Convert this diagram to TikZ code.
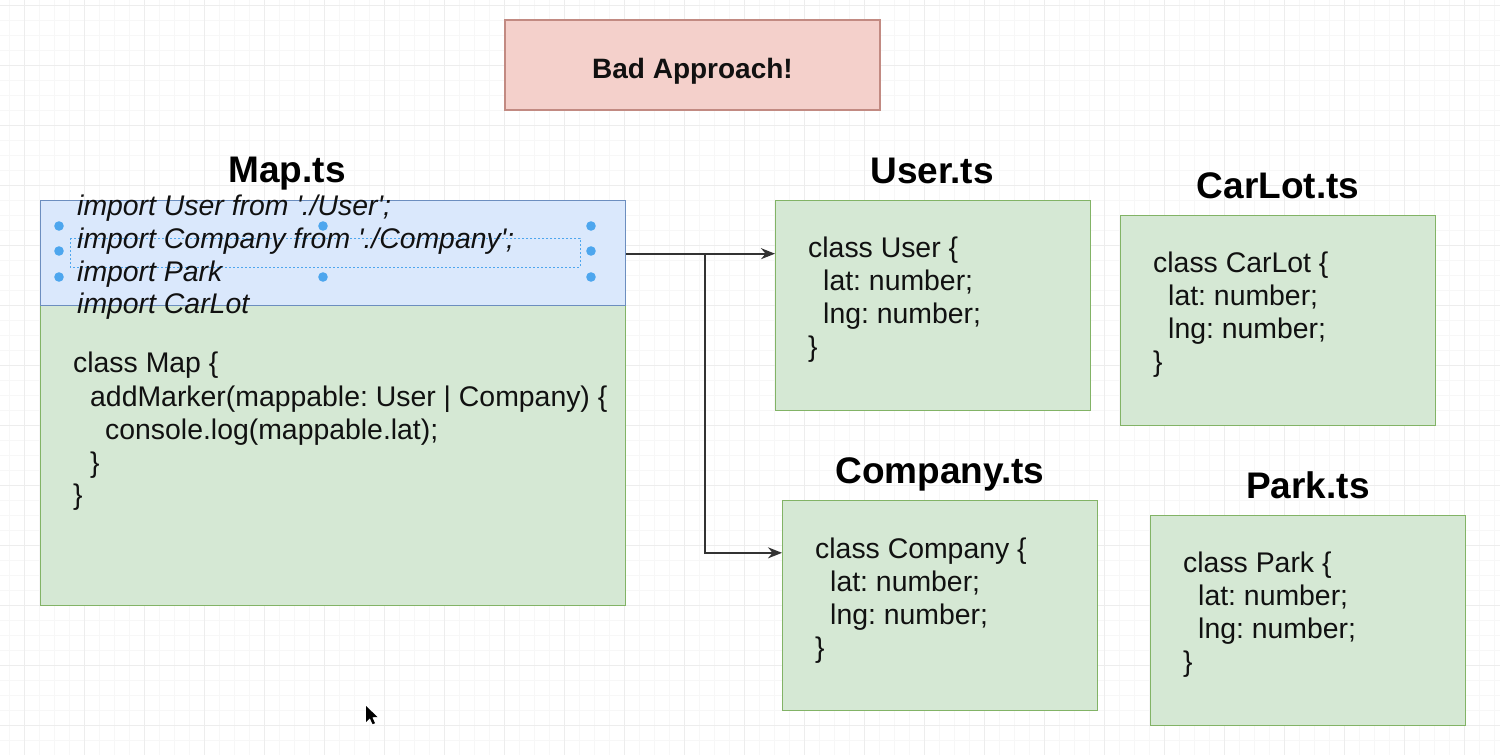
\documentclass[tikz,border=0pt]{standalone}
\usepackage{fontspec}
\setmainfont{Liberation Sans}
\usetikzlibrary{arrows.meta,calc}
\definecolor{gfill}{HTML}{D5E8D4}
\definecolor{gline}{HTML}{82B366}
\definecolor{bfill}{HTML}{DAE8FC}
\definecolor{bline}{HTML}{6C8EBF}
\definecolor{pfill}{HTML}{F4D0CB}
\definecolor{pline}{HTML}{C28A82}
\definecolor{gridminor}{HTML}{F7F7F7}
\definecolor{gridmajor}{HTML}{EDEDED}
\definecolor{arrowc}{HTML}{333333}
\definecolor{handlec}{HTML}{4DA6EE}
\definecolor{txt}{HTML}{111111}
\newcommand{\q}{\textquotesingle}
\begin{document}
\frenchspacing
\begin{tikzpicture}[x=1pt,y=-1pt,
  code/.style={anchor=base west,inner sep=0pt,text=txt,font=\fontsize{28.4}{33}\selectfont},
  imp/.style={anchor=base west,inner sep=0pt,text=txt,font=\fontsize{28.4}{33}\selectfont\itshape},
  ftitle/.style={anchor=base,inner sep=0pt,text=black,font=\fontsize{37}{44}\selectfont\bfseries},
  filebox/.style={draw=gline,fill=gfill,line width=1.3pt,anchor=north west,inner sep=0pt},
  conn/.style={draw=arrowc,line width=1.8pt,-{Stealth[length=14pt,width=11pt]}},
  handle/.style={fill=handlec}
]
\useasboundingbox (0,0) rectangle (1500,755);
\fill[white] (0,0) rectangle (1500,755);
% grid
\foreach \x in {9,24,...,1499} \draw[gridminor,line width=0.8pt] (\x,0) -- (\x,755);
\foreach \y in {5,20,...,754} \draw[gridminor,line width=0.8pt] (0,\y) -- (1500,\y);
\foreach \x in {24,84,...,1499} \draw[gridmajor,line width=1pt] (\x,0) -- (\x,755);
\foreach \y in {5,65,...,754} \draw[gridmajor,line width=1pt] (0,\y) -- (1500,\y);

% Bad approach
\node[draw=pline,fill=pfill,line width=1.3pt,minimum width=375pt,minimum height=90pt,inner sep=0pt,
  text height=30pt,text depth=4pt,
  text=txt,font=\fontsize{28}{33}\selectfont\bfseries] (bad) at (692.5,65) {Bad Approach!};

% Map.ts
\node[ftitle] (maptitle) at (287,182) {Map.ts};
\node[filebox,minimum width=585pt,minimum height=405pt] (map) at (40,200) {};
\node[draw=bline,fill=bfill,line width=1.3pt,anchor=north west,inner sep=0pt,
  minimum width=585pt,minimum height=105pt] (imports) at (40,200) {};
\draw[handlec,line width=0.8pt,dash pattern=on 2pt off 2pt] (70,238) rectangle (580,267);
\foreach \p in {(59,226),(323,226),(591,226),(59,251),(591,251),(59,277),(323,277),(591,277)}
  \fill[handle] \p circle (4.8pt);
\node[imp] (i1) at (77,215) {import User from \q./User\q;};
\node[imp] (i2) at (77,248) {import Company from \q./Company\q;};
\node[imp] (i3) at (77,281) {import Park};
\node[imp] (i4) at (77,313) {import CarLot};
\node[code] (m1) at (73,372) {class Map \{};
\node[code] (m2) at (90,406) {addMarker(mappable: User | Company) \{};
\node[code] (m3) at (105,439) {console.log(mappable.lat);};
\node[code] (m4) at (90,472) {\}};
\node[code] (m5) at (73,504) {\}};

% User.ts
\node[ftitle] (usertitle) at (932,183) {User.ts};
\node[filebox,minimum width=315pt,minimum height=210pt] (user) at (775,200) {};
\node[code] (u1) at (808,257) {class User \{};
\node[code] (u2) at (823,290) {lat: number;};
\node[code] (u3) at (823,323) {lng: number;};
\node[code] (u4) at (808,356) {\}};

% CarLot.ts
\node[ftitle] (carlottitle) at (1278,198) {CarLot.ts};
\node[filebox,minimum width=315pt,minimum height=210pt] (carlot) at (1120,215) {};
\node[code] (c1) at (1153,272) {class CarLot \{};
\node[code] (c2) at (1168,305) {lat: number;};
\node[code] (c3) at (1168,338) {lng: number;};
\node[code] (c4) at (1153,371) {\}};

% Company.ts
\node[ftitle] (companytitle) at (940,483) {Company.ts};
\node[filebox,minimum width=315pt,minimum height=210pt] (company) at (782,500) {};
\node[code] (p1) at (815,558) {class Company \{};
\node[code] (p2) at (830,591) {lat: number;};
\node[code] (p3) at (830,624) {lng: number;};
\node[code] (p4) at (815,657) {\}};

% Park.ts
\node[ftitle] (parktitle) at (1308,498) {Park.ts};
\node[filebox,minimum width=315pt,minimum height=210pt] (park) at (1150,515) {};
\node[code] (k1) at (1183,572) {class Park \{};
\node[code] (k2) at (1198,605) {lat: number;};
\node[code] (k3) at (1198,638) {lng: number;};
\node[code] (k4) at (1183,671) {\}};

% connectors
\coordinate (start) at ($(imports.north east)!0.505!(imports.south east)$);
\coordinate (branch) at (705,253);
\coordinate (cin) at ($(company.north west)!0.25!(company.south west)$);
\draw[conn] (start) -- (start -| user.west);
\draw[conn] (start -| branch) |- (cin);

% mouse cursor
\fill[black] (366,706) -- (366,722) -- (369.8,718.2) -- (372.6,724.2) -- (375,723.2) -- (372.3,717.3) -- (377.5,717) -- cycle;
\end{tikzpicture}
\end{document}
